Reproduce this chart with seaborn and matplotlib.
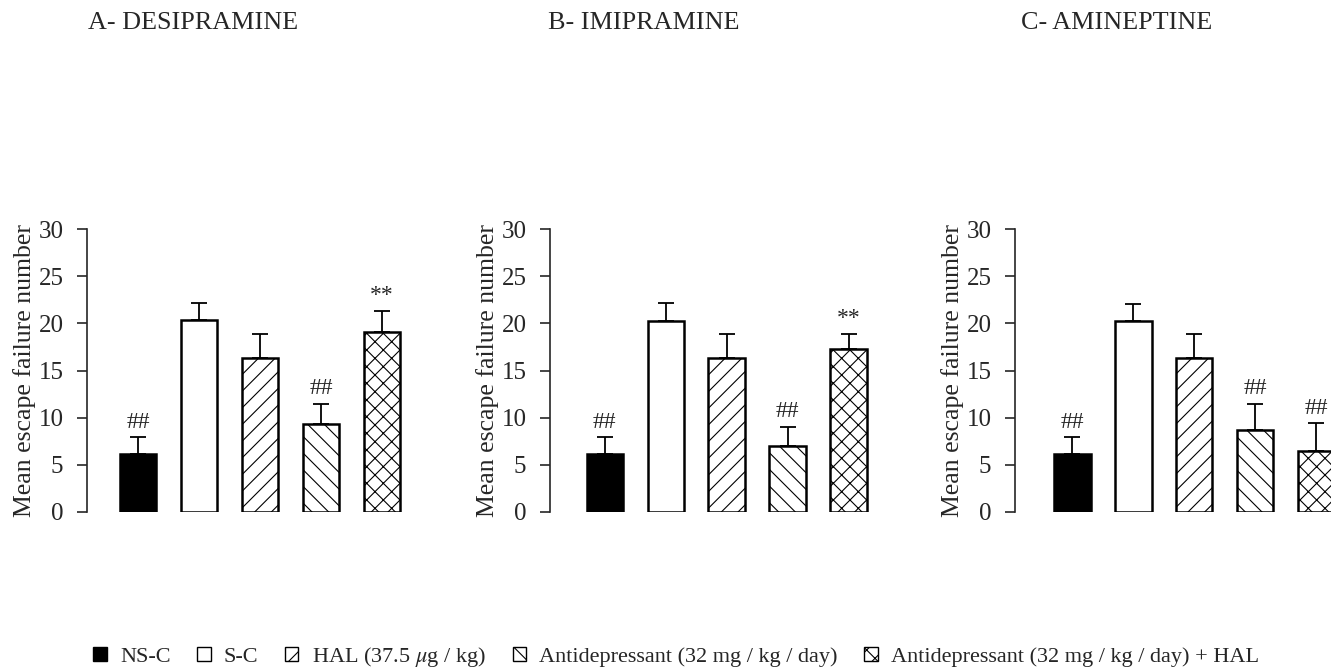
import numpy as np
import pandas as pd
import seaborn as sns
import matplotlib.pyplot as plt
from matplotlib.patches import Patch

groups = ["NS-C", "S-C", "HAL", "AD", "AD+HAL"]
legend_labels = ["NS-C", "S-C", "HAL (37.5 $\\mu$g / kg)",
                 "Antidepressant (32 mg / kg / day)",
                 "Antidepressant (32 mg / kg / day) + HAL"]
panel_titles = ["A- DESIPRAMINE", "B- IMIPRAMINE", "C- AMINEPTINE"]

# means and upper error (SEM)
desi_mean = [6.2, 20.4, 16.3, 9.3, 19.1]
desi_err = [1.7, 1.8, 2.6, 2.2, 2.2]
imi_mean = [6.2, 20.3, 16.3, 7.0, 17.3]
imi_err = [1.7, 1.9, 2.6, 2.0, 1.6]
amin_mean = [6.2, 20.3, 16.3, 8.7, 6.5]
amin_err = [1.7, 1.8, 2.6, 2.8, 2.9]

desi_marks = ["##", "", "", "##", "**"]
imi_marks = ["##", "", "", "##", "**"]
amin_marks = ["##", "", "", "##", "##"]

colors = ["black", "white", "white", "white", "white"]
hatches = ["", "", "//", "\\\\", "xx"]

sns.set_style("ticks")
plt.rcParams["font.family"] = ["Liberation Serif", "DejaVu Serif"]
plt.rcParams["mathtext.fontset"] = "stix"
plt.rcParams["hatch.linewidth"] = 0.8

fig = plt.figure(figsize=(13.31, 6.68), dpi=100)

W, H = 1331, 668
ax_left = [87, 550, 1015]
x_lo = [-0.84, -0.90, -0.94]
bottom = (H - 512) / H
height = (512 - 229) / H
width = 323 / W
title_x = [193, 644, 1117]

panels = [(desi_mean, desi_err, desi_marks),
          (imi_mean, imi_err, imi_marks),
          (amin_mean, amin_err, amin_marks)]

for i, (means, errs, marks) in enumerate(panels):
    ax = fig.add_axes([ax_left[i] / W, bottom, width, height])
    df = pd.DataFrame({"group": groups, "mean": means})
    sns.barplot(data=df, x="group", y="mean", hue="group", palette=colors,
                edgecolor="black", linewidth=1.8, width=0.6, legend=False,
                ax=ax)
    for p, h in zip(ax.patches, hatches):
        p.set_hatch(h)
    x = np.arange(len(groups))
    ax.errorbar(x, means, yerr=[np.zeros(len(errs)), errs], fmt="none",
                ecolor="black", elinewidth=1.3, capsize=6, capthick=1.3)
    for xi, m, e, t in zip(x, means, errs, marks):
        if t:
            ax.text(xi, m + e + 0.5, t, ha="center", va="bottom", fontsize=17)
    ax.set_xlim(x_lo[i], x_lo[i] + 5.3)
    ax.set_ylim(0, 30)
    ax.set_yticks([0, 5, 10, 15, 20, 25, 30])
    ax.tick_params(axis="y", labelsize=18, length=7, width=1.2,
                   direction="out", pad=10)
    ax.tick_params(axis="x", bottom=False, labelbottom=False)
    ax.set_xlabel("")
    ax.set_ylabel("Mean escape failure number", fontsize=18.5, labelpad=2)
    sns.despine(ax=ax, bottom=True)
    ax.spines["left"].set_linewidth(1.2)
    fig.text(title_x[i] / W, 1 - 23 / H, panel_titles[i], ha="center",
             va="center", fontsize=18.8)

handles = [Patch(facecolor=c, edgecolor="black", hatch=h, linewidth=1.0)
           for c, h in zip(colors, hatches)]
fig.legend(handles, legend_labels, loc="center", bbox_to_anchor=(0.508, 1 - 657 / H),
           ncol=5, frameon=False, fontsize=16, handlelength=0.6, handleheight=0.6,
           handletextpad=0.6, columnspacing=1.2)

fig.savefig("out.png", dpi=100)
